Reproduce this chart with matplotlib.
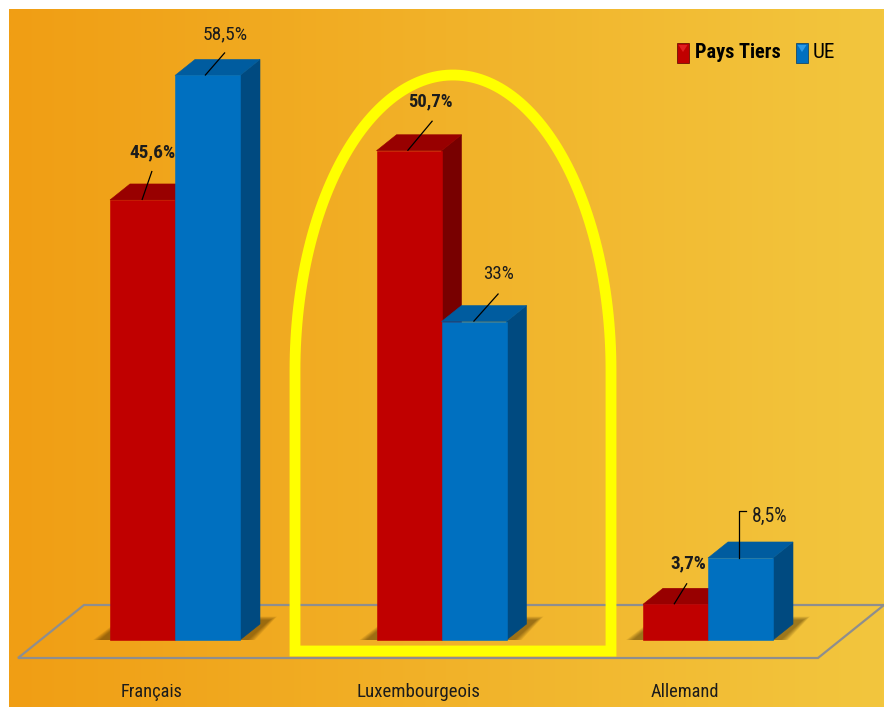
import numpy as np
import matplotlib
matplotlib.use("Agg")
import matplotlib.pyplot as plt
from matplotlib.patches import Polygon, Rectangle, PathPatch
from matplotlib.path import Path
from matplotlib import font_manager

# ---- data -------------------------------------------------------------
categories = ["Français", "Luxembourgeois", "Allemand"]
pays_tiers = [45.6, 50.7, 3.7]
ue = [58.5, 33.0, 8.5]
series_names = ["Pays Tiers", "UE"]

# ---- fonts: prefer a narrow sans ---------------------------------------
entries = font_manager.fontManager.ttflist
names = {f.name for f in entries}
FAMILY, STRETCH = "DejaVu Sans", "normal"
for narrow in ["Liberation Sans Narrow", "Roboto Condensed", "Open Sans Condensed",
               "Noto Sans Condensed", "DejaVu Sans Condensed"]:
    if narrow in names:
        FAMILY = narrow
        break
else:
    for fam in ["Noto Sans", "Open Sans", "DejaVu Sans"]:
        if any(f.name == fam and f.stretch in ("condensed", "semi-condensed")
               for f in entries):
            FAMILY, STRETCH = fam, "condensed"
            break
plt.rcParams["font.family"] = [FAMILY, "DejaVu Sans"]
plt.rcParams["font.stretch"] = STRETCH

W, H, DPI = 884, 707, 100
fig = plt.figure(figsize=(W / DPI, H / DPI), dpi=DPI, facecolor="white")
ax = fig.add_axes([0, 0, 1, 1])
ax.set_axis_off()
renderer = fig.canvas.get_renderer()

# scene scale: pixels per category step / per percent
PX_X = 266.5
PX_Y = 9.65
X0 = 175.0      # pixel position of first group centre
Y0 = 640.0      # pixel position of the value axis zero
ax.set_xlim(-X0 / PX_X, (W - X0) / PX_X)
ax.set_ylim(-(H - Y0) / PX_Y, Y0 / PX_Y)


def dx(px):
    return px / PX_X


def dy(px):
    return px / PX_Y


def px2data(xp, yp):
    return ((xp - X0) / PX_X, (Y0 - yp) / PX_Y)


def fit(txt, width_px, size, k=0.75):
    """Shrink a text towards a target width (narrow face look)."""
    w = txt.get_window_extent(renderer).width
    if w > width_px:
        txt.set_fontsize(size * (width_px / w) ** k)
    return txt


# ---- background gradient ---------------------------------------------
left_c = np.array([240, 158, 20]) / 255
right_c = np.array([243, 198, 62]) / 255
t = np.linspace(0, 1, 256)
grad = (left_c[None, :] * (1 - t[:, None]) + right_c[None, :] * t[:, None])[None, :, :]
bx0, by0 = px2data(9, 9)
bx1, by1 = px2data(W, H)
ax.imshow(grad, extent=(bx0, bx1, by1, by0), aspect="auto", zorder=0,
          interpolation="bilinear")

# ---- floor ------------------------------------------------------------
floor_px = [(18, 658), (818, 658), (884, 605), (84, 605)]
ax.add_patch(Polygon([px2data(*p) for p in floor_px], closed=True,
                     fill=False, edgecolor="#8E8E8E", lw=1.6, zorder=1))

# ---- bars -------------------------------------------------------------
BAR_W = dx(65)
DEPTH_X = dx(20)
DEPTH_Y = dy(16)

colors = {
    "Pays Tiers": dict(front="#C00000", top="#980000", side="#780000"),
    "UE": dict(front="#0070C0", top="#005C9F", side="#004A80"),
}


def shadow(x_left, x_right):
    # soft shadow cast on the floor behind each group
    for g in range(7, -1, -1):
        poly = [(x_left - dx(10 + g), 0),
                (x_right + dx(8 + g), 0),
                (x_right + dx(30 + g), dy(20 + g * 0.5)),
                (x_left + dx(14), dy(20 + g * 0.5))]
        ax.add_patch(Polygon(poly, closed=True, facecolor="#3A2200",
                             edgecolor="none", alpha=0.07, zorder=2))


def bar3d(x_left, value, c, z):
    x_right = x_left + BAR_W
    front = Rectangle((x_left, 0), BAR_W, value, facecolor=c["front"],
                      edgecolor=c["front"], lw=0.4, zorder=z)
    top = Polygon([(x_left, value), (x_right, value),
                   (x_right + DEPTH_X, value + DEPTH_Y),
                   (x_left + DEPTH_X, value + DEPTH_Y)],
                  closed=True, facecolor=c["top"], edgecolor=c["top"],
                  lw=0.4, zorder=z)
    side = Polygon([(x_right, 0), (x_right + DEPTH_X, DEPTH_Y),
                    (x_right + DEPTH_X, value + DEPTH_Y), (x_right, value)],
                   closed=True, facecolor=c["side"], edgecolor=c["side"],
                   lw=0.4, zorder=z)
    for p in (side, top, front):
        ax.add_patch(p)


for i in range(len(categories)):
    shadow(i - BAR_W, i + BAR_W)

for i in range(len(categories)):
    bar3d(i - BAR_W, pays_tiers[i], colors["Pays Tiers"], 3)
    bar3d(i, ue[i], colors["UE"], 4)

# ---- value labels -----------------------------------------------------
TXT = "#1C1C1C"


def fmt(v):
    return f"{v:g}".replace(".", ",") + "%"


# (anchor x from bar left, line end dx, line end up, text dx, text up) in pixels
pt_leaders = [(32, 10, 29, 10, 48), (31, 25, 30, 23, 49), (31, 13, 21, 14, 41)]
ue_leaders = [(30, 20, 23, 20, 41), (32, 25, 28, 25, 48), None]
pt_widths = [45, 43, 35]
ue_widths = [44, 30, 35]

for i in range(len(categories)):
    # Pays Tiers
    ax0, ex, ey, tx, ty = pt_leaders[i]
    xl = i - BAR_W
    v = pays_tiers[i]
    ax.plot([xl + dx(ax0), xl + dx(ax0 + ex)], [v, v + dy(ey)],
            color="black", lw=0.9, zorder=6, solid_capstyle="butt")
    fit(ax.text(xl + dx(ax0 + tx), v + dy(ty), fmt(v), ha="center", va="center",
                fontsize=15, fontweight="bold", color=TXT, zorder=7),
        pt_widths[i], 15)
    # UE
    v = ue[i]
    xl = i
    if ue_leaders[i] is not None:
        ax0, ex, ey, tx, ty = ue_leaders[i]
        ax.plot([xl + dx(ax0), xl + dx(ax0 + ex)], [v, v + dy(ey)],
                color="black", lw=0.9, zorder=6, solid_capstyle="butt")
        fit(ax.text(xl + dx(ax0 + tx), v + dy(ty), fmt(v), ha="center",
                    va="center", fontsize=15, color=TXT, zorder=7),
            ue_widths[i], 15)
    else:
        # elbow leader
        xs = xl + dx(31)
        ax.plot([xs, xs, xs + dx(7)], [v, v + dy(47), v + dy(47)],
                color="black", lw=0.9, zorder=6)
        fit(ax.text(xs + dx(13), v + dy(42), fmt(v), ha="left", va="center",
                    fontsize=15, color=TXT, zorder=7),
            ue_widths[i], 15)

# ---- category labels --------------------------------------------------
cat_widths = [60, 121, 66]
for i, name in enumerate(categories):
    fit(ax.text(i - dx(23), dy(-52), name, ha="center", va="center",
                fontsize=14.5, color=TXT, zorder=7),
        cat_widths[i], 14.5)

# ---- highlight around Luxembourgeois ----------------------------------
cx = 1 + dx(11.5)
a = dx(158)
b_top = 75.0
e_cy = 370.0
y_bottom = 651.0
theta = np.linspace(np.pi, 0, 120)
arch_x = cx + a * np.cos(theta)
arch_y = [(Y0 - (e_cy - (e_cy - b_top) * np.sin(th))) / PX_Y for th in theta]
verts = [(cx - a, (Y0 - y_bottom) / PX_Y)]
verts += list(zip(arch_x, arch_y))
verts += [(cx + a, (Y0 - y_bottom) / PX_Y), (cx - a, (Y0 - y_bottom) / PX_Y)]
codes = [Path.MOVETO] + [Path.LINETO] * (len(verts) - 2) + [Path.CLOSEPOLY]
ax.add_patch(PathPatch(Path(verts, codes), fill=False, edgecolor="#FFFF00",
                       lw=7.8, joinstyle="miter", zorder=8))

# ---- legend -----------------------------------------------------------
def P(xp, yp):
    return (xp / W, 1 - yp / H)


leg_items = [(677, "Pays Tiers", "bold", "#C00000", "#E02020", 695, 83),
             (796, "UE", "normal", "#0070C0", "#2A9AE8", 813, 22)]
for x_m, label, weight, col, hi, x_t, wt in leg_items:
    x0, y0 = P(x_m, 63)
    ax.add_patch(Rectangle((x0, y0), 12 / W, 20 / H, transform=ax.transAxes,
                           facecolor=col,
                           edgecolor="#5A0000" if weight == "bold" else "#003A66",
                           lw=0.5, zorder=9))
    tri = [P(x_m + 1.5, 45), P(x_m + 10.5, 45), P(x_m + 6, 52)]
    ax.add_patch(Polygon(tri, closed=True, transform=ax.transAxes,
                         facecolor=hi, edgecolor="none", zorder=10))
    tx, ty = P(x_t, 53)
    fit(ax.text(tx, ty, label, transform=ax.transAxes, ha="left", va="center",
                fontsize=16, fontweight=weight, color="black", zorder=9),
        wt, 16)

fig.savefig("out.png", dpi=DPI, facecolor=fig.get_facecolor())
